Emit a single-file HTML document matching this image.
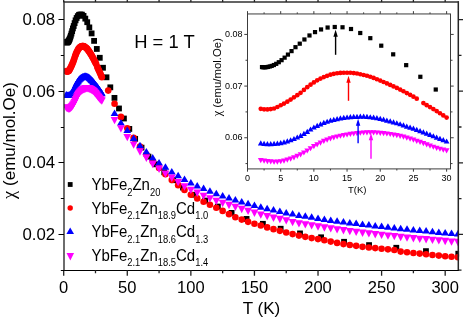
<!DOCTYPE html>
<html><head><meta charset="utf-8"><title>chart</title>
<style>html,body{margin:0;padding:0;background:#fff}svg{display:block;will-change:transform;opacity:0.999}text{font-family:"Liberation Sans",sans-serif;fill:#000}</style>
</head><body>
<svg width="463" height="324" viewBox="0 0 463 324">
<defs><clipPath id="cm"><rect x="64.0" y="2.0" width="395.1" height="268.25"/></clipPath>
<clipPath id="ci"><rect x="247.5" y="13.95" width="203.0" height="154.95000000000002"/></clipPath></defs>
<rect width="463" height="324" fill="#fff"/>
<g clip-path="url(#cm)">
<rect x="63.58" y="39.34" width="5.8" height="5.8" fill="#000"/>
<rect x="63.83" y="39.45" width="5.8" height="5.8" fill="#000"/>
<rect x="64.10" y="39.48" width="5.8" height="5.8" fill="#000"/>
<rect x="64.39" y="39.42" width="5.8" height="5.8" fill="#000"/>
<rect x="64.71" y="39.22" width="5.8" height="5.8" fill="#000"/>
<rect x="65.06" y="38.92" width="5.8" height="5.8" fill="#000"/>
<rect x="65.44" y="38.53" width="5.8" height="5.8" fill="#000"/>
<rect x="65.85" y="37.91" width="5.8" height="5.8" fill="#000"/>
<rect x="66.30" y="37.09" width="5.8" height="5.8" fill="#000"/>
<rect x="66.80" y="35.95" width="5.8" height="5.8" fill="#000"/>
<rect x="67.33" y="34.54" width="5.8" height="5.8" fill="#000"/>
<rect x="67.91" y="32.79" width="5.8" height="5.8" fill="#000"/>
<rect x="68.55" y="30.68" width="5.8" height="5.8" fill="#000"/>
<rect x="69.24" y="28.26" width="5.8" height="5.8" fill="#000"/>
<rect x="69.99" y="25.54" width="5.8" height="5.8" fill="#000"/>
<rect x="70.81" y="23.12" width="5.8" height="5.8" fill="#000"/>
<rect x="71.70" y="20.21" width="5.8" height="5.8" fill="#000"/>
<rect x="72.68" y="17.43" width="5.8" height="5.8" fill="#000"/>
<rect x="73.74" y="15.10" width="5.8" height="5.8" fill="#000"/>
<rect x="74.89" y="13.26" width="5.8" height="5.8" fill="#000"/>
<rect x="76.15" y="11.93" width="5.8" height="5.8" fill="#000"/>
<rect x="77.52" y="11.56" width="5.8" height="5.8" fill="#000"/>
<rect x="79.01" y="11.75" width="5.8" height="5.8" fill="#000"/>
<rect x="80.63" y="12.96" width="5.8" height="5.8" fill="#000"/>
<rect x="82.40" y="15.73" width="5.8" height="5.8" fill="#000"/>
<rect x="84.33" y="19.30" width="5.8" height="5.8" fill="#000"/>
<rect x="86.43" y="24.50" width="5.8" height="5.8" fill="#000"/>
<rect x="88.71" y="30.50" width="5.8" height="5.8" fill="#000"/>
<rect x="91.20" y="37.99" width="5.8" height="5.8" fill="#000"/>
<rect x="93.91" y="46.05" width="5.8" height="5.8" fill="#000"/>
<rect x="96.87" y="54.88" width="5.8" height="5.8" fill="#000"/>
<rect x="100.08" y="64.85" width="5.8" height="5.8" fill="#000"/>
<rect x="103.59" y="74.41" width="5.8" height="5.8" fill="#000"/>
<rect x="107.41" y="84.43" width="5.8" height="5.8" fill="#000"/>
<rect x="111.56" y="94.98" width="5.8" height="5.8" fill="#000"/>
<rect x="116.09" y="105.57" width="5.8" height="5.8" fill="#000"/>
<rect x="121.02" y="115.61" width="5.8" height="5.8" fill="#000"/>
<rect x="126.40" y="126.03" width="5.8" height="5.8" fill="#000"/>
<rect x="132.25" y="135.96" width="5.8" height="5.8" fill="#000"/>
<rect x="138.62" y="144.74" width="5.8" height="5.8" fill="#000"/>
<rect x="145.56" y="153.71" width="5.8" height="5.8" fill="#000"/>
<rect x="153.12" y="161.43" width="5.8" height="5.8" fill="#000"/>
<rect x="161.36" y="169.40" width="5.8" height="5.8" fill="#000"/>
<rect x="170.33" y="177.31" width="5.8" height="5.8" fill="#000"/>
<rect x="180.10" y="184.68" width="5.8" height="5.8" fill="#000"/>
<rect x="190.74" y="191.84" width="5.8" height="5.8" fill="#000"/>
<rect x="202.33" y="197.68" width="5.8" height="5.8" fill="#000"/>
<rect x="214.95" y="203.64" width="5.8" height="5.8" fill="#000"/>
<rect x="228.70" y="210.00" width="5.8" height="5.8" fill="#000"/>
<rect x="243.68" y="216.03" width="5.8" height="5.8" fill="#000"/>
<rect x="259.99" y="220.93" width="5.8" height="5.8" fill="#000"/>
<rect x="277.76" y="225.84" width="5.8" height="5.8" fill="#000"/>
<rect x="297.11" y="230.52" width="5.8" height="5.8" fill="#000"/>
<rect x="318.19" y="234.40" width="5.8" height="5.8" fill="#000"/>
<rect x="341.15" y="238.90" width="5.8" height="5.8" fill="#000"/>
<rect x="366.16" y="242.22" width="5.8" height="5.8" fill="#000"/>
<rect x="393.40" y="244.87" width="5.8" height="5.8" fill="#000"/>
<rect x="423.06" y="248.22" width="5.8" height="5.8" fill="#000"/>
<rect x="455.38" y="250.83" width="5.8" height="5.8" fill="#000"/>
<circle cx="66.24" cy="71.14" r="3.3" fill="#ff0000"/>
<circle cx="66.88" cy="71.50" r="3.3" fill="#ff0000"/>
<circle cx="67.51" cy="71.55" r="3.3" fill="#ff0000"/>
<circle cx="68.15" cy="71.34" r="3.3" fill="#ff0000"/>
<circle cx="68.79" cy="70.94" r="3.3" fill="#ff0000"/>
<circle cx="69.42" cy="69.88" r="3.3" fill="#ff0000"/>
<circle cx="70.06" cy="68.69" r="3.3" fill="#ff0000"/>
<circle cx="70.69" cy="67.48" r="3.3" fill="#ff0000"/>
<circle cx="71.33" cy="66.18" r="3.3" fill="#ff0000"/>
<circle cx="71.97" cy="64.73" r="3.3" fill="#ff0000"/>
<circle cx="72.60" cy="63.21" r="3.3" fill="#ff0000"/>
<circle cx="73.24" cy="61.72" r="3.3" fill="#ff0000"/>
<circle cx="73.87" cy="60.08" r="3.3" fill="#ff0000"/>
<circle cx="74.51" cy="58.05" r="3.3" fill="#ff0000"/>
<circle cx="75.14" cy="56.12" r="3.3" fill="#ff0000"/>
<circle cx="75.78" cy="54.40" r="3.3" fill="#ff0000"/>
<circle cx="76.42" cy="52.84" r="3.3" fill="#ff0000"/>
<circle cx="77.05" cy="51.43" r="3.3" fill="#ff0000"/>
<circle cx="77.69" cy="50.21" r="3.3" fill="#ff0000"/>
<circle cx="78.32" cy="49.16" r="3.3" fill="#ff0000"/>
<circle cx="78.96" cy="48.27" r="3.3" fill="#ff0000"/>
<circle cx="79.59" cy="47.52" r="3.3" fill="#ff0000"/>
<circle cx="80.23" cy="46.93" r="3.3" fill="#ff0000"/>
<circle cx="80.87" cy="46.50" r="3.3" fill="#ff0000"/>
<circle cx="81.50" cy="46.27" r="3.3" fill="#ff0000"/>
<circle cx="82.14" cy="46.16" r="3.3" fill="#ff0000"/>
<circle cx="82.77" cy="46.16" r="3.3" fill="#ff0000"/>
<circle cx="83.41" cy="46.16" r="3.3" fill="#ff0000"/>
<circle cx="84.05" cy="46.36" r="3.3" fill="#ff0000"/>
<circle cx="84.68" cy="46.69" r="3.3" fill="#ff0000"/>
<circle cx="85.32" cy="47.19" r="3.3" fill="#ff0000"/>
<circle cx="85.95" cy="47.72" r="3.3" fill="#ff0000"/>
<circle cx="86.59" cy="48.25" r="3.3" fill="#ff0000"/>
<circle cx="87.22" cy="48.92" r="3.3" fill="#ff0000"/>
<circle cx="87.86" cy="49.77" r="3.3" fill="#ff0000"/>
<circle cx="88.50" cy="50.66" r="3.3" fill="#ff0000"/>
<circle cx="89.13" cy="51.58" r="3.3" fill="#ff0000"/>
<circle cx="89.77" cy="52.57" r="3.3" fill="#ff0000"/>
<circle cx="90.40" cy="53.59" r="3.3" fill="#ff0000"/>
<circle cx="91.04" cy="54.59" r="3.3" fill="#ff0000"/>
<circle cx="91.68" cy="55.61" r="3.3" fill="#ff0000"/>
<circle cx="92.31" cy="56.69" r="3.3" fill="#ff0000"/>
<circle cx="92.95" cy="57.82" r="3.3" fill="#ff0000"/>
<circle cx="93.58" cy="58.99" r="3.3" fill="#ff0000"/>
<circle cx="94.22" cy="60.22" r="3.3" fill="#ff0000"/>
<circle cx="94.85" cy="61.46" r="3.3" fill="#ff0000"/>
<circle cx="95.49" cy="62.74" r="3.3" fill="#ff0000"/>
<circle cx="96.13" cy="64.10" r="3.3" fill="#ff0000"/>
<circle cx="97.40" cy="67.17" r="3.3" fill="#ff0000"/>
<circle cx="98.03" cy="68.59" r="3.3" fill="#ff0000"/>
<circle cx="98.67" cy="69.96" r="3.3" fill="#ff0000"/>
<circle cx="99.30" cy="71.32" r="3.3" fill="#ff0000"/>
<circle cx="99.94" cy="72.73" r="3.3" fill="#ff0000"/>
<circle cx="100.58" cy="74.21" r="3.3" fill="#ff0000"/>
<circle cx="101.21" cy="75.72" r="3.3" fill="#ff0000"/>
<circle cx="101.85" cy="77.21" r="3.3" fill="#ff0000"/>
<circle cx="108.21" cy="90.60" r="3.3" fill="#ff0000"/>
<circle cx="114.56" cy="103.75" r="3.3" fill="#ff0000"/>
<circle cx="120.92" cy="116.90" r="3.3" fill="#ff0000"/>
<circle cx="127.28" cy="128.25" r="3.3" fill="#ff0000"/>
<circle cx="133.64" cy="137.90" r="3.3" fill="#ff0000"/>
<circle cx="140.00" cy="146.62" r="3.3" fill="#ff0000"/>
<circle cx="146.35" cy="154.50" r="3.3" fill="#ff0000"/>
<circle cx="152.71" cy="161.52" r="3.3" fill="#ff0000"/>
<circle cx="159.07" cy="168.00" r="3.3" fill="#ff0000"/>
<circle cx="165.43" cy="174.23" r="3.3" fill="#ff0000"/>
<circle cx="171.79" cy="180.00" r="3.3" fill="#ff0000"/>
<circle cx="178.14" cy="185.16" r="3.3" fill="#ff0000"/>
<circle cx="184.50" cy="190.00" r="3.3" fill="#ff0000"/>
<circle cx="190.86" cy="194.70" r="3.3" fill="#ff0000"/>
<circle cx="197.22" cy="198.40" r="3.3" fill="#ff0000"/>
<circle cx="203.58" cy="201.80" r="3.3" fill="#ff0000"/>
<circle cx="209.93" cy="204.70" r="3.3" fill="#ff0000"/>
<circle cx="216.29" cy="207.77" r="3.3" fill="#ff0000"/>
<circle cx="222.65" cy="210.90" r="3.3" fill="#ff0000"/>
<circle cx="229.01" cy="214.17" r="3.3" fill="#ff0000"/>
<circle cx="235.37" cy="217.20" r="3.3" fill="#ff0000"/>
<circle cx="241.72" cy="219.60" r="3.3" fill="#ff0000"/>
<circle cx="248.08" cy="221.85" r="3.3" fill="#ff0000"/>
<circle cx="254.44" cy="223.70" r="3.3" fill="#ff0000"/>
<circle cx="260.80" cy="225.57" r="3.3" fill="#ff0000"/>
<circle cx="267.16" cy="227.40" r="3.3" fill="#ff0000"/>
<circle cx="273.51" cy="229.15" r="3.3" fill="#ff0000"/>
<circle cx="279.87" cy="230.85" r="3.3" fill="#ff0000"/>
<circle cx="286.23" cy="232.50" r="3.3" fill="#ff0000"/>
<circle cx="292.59" cy="234.10" r="3.3" fill="#ff0000"/>
<circle cx="298.95" cy="235.60" r="3.3" fill="#ff0000"/>
<circle cx="305.30" cy="236.85" r="3.3" fill="#ff0000"/>
<circle cx="311.66" cy="238.10" r="3.3" fill="#ff0000"/>
<circle cx="318.02" cy="239.10" r="3.3" fill="#ff0000"/>
<circle cx="324.38" cy="240.31" r="3.3" fill="#ff0000"/>
<circle cx="330.74" cy="241.60" r="3.3" fill="#ff0000"/>
<circle cx="337.09" cy="242.91" r="3.3" fill="#ff0000"/>
<circle cx="343.45" cy="244.10" r="3.3" fill="#ff0000"/>
<circle cx="349.81" cy="245.00" r="3.3" fill="#ff0000"/>
<circle cx="356.17" cy="245.85" r="3.3" fill="#ff0000"/>
<circle cx="362.53" cy="246.85" r="3.3" fill="#ff0000"/>
<circle cx="368.88" cy="247.50" r="3.3" fill="#ff0000"/>
<circle cx="375.24" cy="248.10" r="3.3" fill="#ff0000"/>
<circle cx="381.60" cy="248.70" r="3.3" fill="#ff0000"/>
<circle cx="387.96" cy="249.35" r="3.3" fill="#ff0000"/>
<circle cx="394.32" cy="250.00" r="3.3" fill="#ff0000"/>
<circle cx="400.67" cy="251.60" r="3.3" fill="#ff0000"/>
<circle cx="407.03" cy="252.30" r="3.3" fill="#ff0000"/>
<circle cx="413.39" cy="253.00" r="3.3" fill="#ff0000"/>
<circle cx="419.75" cy="253.60" r="3.3" fill="#ff0000"/>
<circle cx="426.11" cy="254.30" r="3.3" fill="#ff0000"/>
<circle cx="432.46" cy="255.00" r="3.3" fill="#ff0000"/>
<circle cx="438.82" cy="255.60" r="3.3" fill="#ff0000"/>
<circle cx="445.18" cy="256.20" r="3.3" fill="#ff0000"/>
<circle cx="451.54" cy="256.80" r="3.3" fill="#ff0000"/>
<circle cx="457.90" cy="257.30" r="3.3" fill="#ff0000"/>
<path d="M62.34 97.56L70.14 97.56L66.24 91.06Z" fill="#0000ff"/>
<path d="M62.98 97.92L70.78 97.92L66.88 91.42Z" fill="#0000ff"/>
<path d="M63.61 98.05L71.41 98.05L67.51 91.55Z" fill="#0000ff"/>
<path d="M64.25 98.02L72.05 98.02L68.15 91.52Z" fill="#0000ff"/>
<path d="M64.89 97.94L72.69 97.94L68.79 91.44Z" fill="#0000ff"/>
<path d="M65.52 97.74L73.32 97.74L69.42 91.24Z" fill="#0000ff"/>
<path d="M66.16 97.33L73.96 97.33L70.06 90.83Z" fill="#0000ff"/>
<path d="M66.79 96.80L74.59 96.80L70.69 90.30Z" fill="#0000ff"/>
<path d="M67.43 96.14L75.23 96.14L71.33 89.64Z" fill="#0000ff"/>
<path d="M68.07 95.40L75.87 95.40L71.97 88.90Z" fill="#0000ff"/>
<path d="M68.70 94.53L76.50 94.53L72.60 88.03Z" fill="#0000ff"/>
<path d="M69.34 93.48L77.14 93.48L73.24 86.98Z" fill="#0000ff"/>
<path d="M69.97 92.30L77.77 92.30L73.87 85.80Z" fill="#0000ff"/>
<path d="M70.61 90.99L78.41 90.99L74.51 84.49Z" fill="#0000ff"/>
<path d="M71.24 89.56L79.04 89.56L75.14 83.06Z" fill="#0000ff"/>
<path d="M71.88 87.93L79.68 87.93L75.78 81.43Z" fill="#0000ff"/>
<path d="M72.52 86.56L80.32 86.56L76.42 80.06Z" fill="#0000ff"/>
<path d="M73.15 85.45L80.95 85.45L77.05 78.95Z" fill="#0000ff"/>
<path d="M73.79 84.39L81.59 84.39L77.69 77.89Z" fill="#0000ff"/>
<path d="M74.42 83.40L82.22 83.40L78.32 76.90Z" fill="#0000ff"/>
<path d="M75.06 82.56L82.86 82.56L78.96 76.06Z" fill="#0000ff"/>
<path d="M75.69 81.85L83.50 81.85L79.59 75.35Z" fill="#0000ff"/>
<path d="M76.33 81.24L84.13 81.24L80.23 74.74Z" fill="#0000ff"/>
<path d="M76.97 80.71L84.77 80.71L80.87 74.21Z" fill="#0000ff"/>
<path d="M77.60 80.27L85.40 80.27L81.50 73.77Z" fill="#0000ff"/>
<path d="M78.24 79.90L86.04 79.90L82.14 73.40Z" fill="#0000ff"/>
<path d="M78.87 79.61L86.67 79.61L82.77 73.11Z" fill="#0000ff"/>
<path d="M79.51 79.39L87.31 79.39L83.41 72.89Z" fill="#0000ff"/>
<path d="M80.15 79.21L87.95 79.21L84.05 72.71Z" fill="#0000ff"/>
<path d="M80.78 79.12L88.58 79.12L84.68 72.62Z" fill="#0000ff"/>
<path d="M81.42 79.07L89.22 79.07L85.32 72.57Z" fill="#0000ff"/>
<path d="M82.05 79.08L89.85 79.08L85.95 72.58Z" fill="#0000ff"/>
<path d="M82.69 79.23L90.49 79.23L86.59 72.73Z" fill="#0000ff"/>
<path d="M83.32 79.45L91.12 79.45L87.22 72.95Z" fill="#0000ff"/>
<path d="M83.96 79.75L91.76 79.75L87.86 73.25Z" fill="#0000ff"/>
<path d="M84.60 80.12L92.40 80.12L88.50 73.62Z" fill="#0000ff"/>
<path d="M85.23 80.57L93.03 80.57L89.13 74.07Z" fill="#0000ff"/>
<path d="M85.87 81.12L93.67 81.12L89.77 74.62Z" fill="#0000ff"/>
<path d="M86.50 81.75L94.30 81.75L90.40 75.25Z" fill="#0000ff"/>
<path d="M87.14 82.36L94.94 82.36L91.04 75.86Z" fill="#0000ff"/>
<path d="M87.78 82.97L95.58 82.97L91.68 76.47Z" fill="#0000ff"/>
<path d="M88.41 83.61L96.21 83.61L92.31 77.11Z" fill="#0000ff"/>
<path d="M89.05 84.29L96.85 84.29L92.95 77.79Z" fill="#0000ff"/>
<path d="M89.68 85.10L97.48 85.10L93.58 78.60Z" fill="#0000ff"/>
<path d="M90.32 85.91L98.12 85.91L94.22 79.41Z" fill="#0000ff"/>
<path d="M90.95 86.64L98.75 86.64L94.85 80.14Z" fill="#0000ff"/>
<path d="M91.59 87.39L99.39 87.39L95.49 80.89Z" fill="#0000ff"/>
<path d="M92.23 88.19L100.03 88.19L96.13 81.69Z" fill="#0000ff"/>
<path d="M92.86 89.02L100.66 89.02L96.76 82.52Z" fill="#0000ff"/>
<path d="M93.50 89.86L101.30 89.86L97.40 83.36Z" fill="#0000ff"/>
<path d="M94.13 90.75L101.93 90.75L98.03 84.25Z" fill="#0000ff"/>
<path d="M94.77 91.67L102.57 91.67L98.67 85.17Z" fill="#0000ff"/>
<path d="M95.40 92.62L103.20 92.62L99.30 86.12Z" fill="#0000ff"/>
<path d="M96.04 93.58L103.84 93.58L99.94 87.08Z" fill="#0000ff"/>
<path d="M96.68 94.48L104.48 94.48L100.58 87.98Z" fill="#0000ff"/>
<path d="M97.31 95.34L105.11 95.34L101.21 88.84Z" fill="#0000ff"/>
<path d="M97.95 96.23L105.75 96.23L101.85 89.73Z" fill="#0000ff"/>
<path d="M110.66 116.00L118.46 116.00L114.56 109.50Z" fill="#0000ff"/>
<path d="M117.02 125.40L124.82 125.40L120.92 118.90Z" fill="#0000ff"/>
<path d="M123.38 132.90L131.18 132.90L127.28 126.40Z" fill="#0000ff"/>
<path d="M129.74 141.00L137.54 141.00L133.64 134.50Z" fill="#0000ff"/>
<path d="M136.10 148.25L143.90 148.25L140.00 141.75Z" fill="#0000ff"/>
<path d="M142.45 154.50L150.25 154.50L146.35 148.00Z" fill="#0000ff"/>
<path d="M148.81 160.40L156.61 160.40L152.71 153.90Z" fill="#0000ff"/>
<path d="M155.17 165.40L162.97 165.40L159.07 158.90Z" fill="#0000ff"/>
<path d="M161.53 169.75L169.33 169.75L165.43 163.25Z" fill="#0000ff"/>
<path d="M167.89 174.50L175.69 174.50L171.79 168.00Z" fill="#0000ff"/>
<path d="M174.24 178.25L182.04 178.25L178.14 171.75Z" fill="#0000ff"/>
<path d="M180.60 182.10L188.40 182.10L184.50 175.60Z" fill="#0000ff"/>
<path d="M186.96 185.40L194.76 185.40L190.86 178.90Z" fill="#0000ff"/>
<path d="M193.32 188.50L201.12 188.50L197.22 182.00Z" fill="#0000ff"/>
<path d="M199.68 191.00L207.48 191.00L203.58 184.50Z" fill="#0000ff"/>
<path d="M206.03 193.75L213.83 193.75L209.93 187.25Z" fill="#0000ff"/>
<path d="M212.39 196.25L220.19 196.25L216.29 189.75Z" fill="#0000ff"/>
<path d="M218.75 198.50L226.55 198.50L222.65 192.00Z" fill="#0000ff"/>
<path d="M225.11 200.60L232.91 200.60L229.01 194.10Z" fill="#0000ff"/>
<path d="M231.47 202.55L239.27 202.55L235.37 196.05Z" fill="#0000ff"/>
<path d="M237.82 204.50L245.62 204.50L241.72 198.00Z" fill="#0000ff"/>
<path d="M244.18 206.25L251.98 206.25L248.08 199.75Z" fill="#0000ff"/>
<path d="M250.54 208.10L258.34 208.10L254.44 201.60Z" fill="#0000ff"/>
<path d="M256.90 209.75L264.70 209.75L260.80 203.25Z" fill="#0000ff"/>
<path d="M263.26 211.25L271.06 211.25L267.16 204.75Z" fill="#0000ff"/>
<path d="M269.61 212.60L277.41 212.60L273.51 206.10Z" fill="#0000ff"/>
<path d="M275.97 213.90L283.77 213.90L279.87 207.40Z" fill="#0000ff"/>
<path d="M282.33 215.40L290.13 215.40L286.23 208.90Z" fill="#0000ff"/>
<path d="M288.69 216.60L296.49 216.60L292.59 210.10Z" fill="#0000ff"/>
<path d="M295.05 217.90L302.85 217.90L298.95 211.40Z" fill="#0000ff"/>
<path d="M301.40 218.75L309.20 218.75L305.30 212.25Z" fill="#0000ff"/>
<path d="M307.76 219.75L315.56 219.75L311.66 213.25Z" fill="#0000ff"/>
<path d="M314.12 221.00L321.92 221.00L318.02 214.50Z" fill="#0000ff"/>
<path d="M320.48 222.00L328.28 222.00L324.38 215.50Z" fill="#0000ff"/>
<path d="M326.84 222.90L334.64 222.90L330.74 216.40Z" fill="#0000ff"/>
<path d="M333.19 223.75L340.99 223.75L337.09 217.25Z" fill="#0000ff"/>
<path d="M339.55 224.50L347.35 224.50L343.45 218.00Z" fill="#0000ff"/>
<path d="M345.91 225.40L353.71 225.40L349.81 218.90Z" fill="#0000ff"/>
<path d="M352.27 226.00L360.07 226.00L356.17 219.50Z" fill="#0000ff"/>
<path d="M358.63 227.00L366.43 227.00L362.53 220.50Z" fill="#0000ff"/>
<path d="M364.98 227.60L372.78 227.60L368.88 221.10Z" fill="#0000ff"/>
<path d="M371.34 228.50L379.14 228.50L375.24 222.00Z" fill="#0000ff"/>
<path d="M377.70 229.10L385.50 229.10L381.60 222.60Z" fill="#0000ff"/>
<path d="M384.06 229.75L391.86 229.75L387.96 223.25Z" fill="#0000ff"/>
<path d="M390.42 230.40L398.22 230.40L394.32 223.90Z" fill="#0000ff"/>
<path d="M396.77 231.25L404.57 231.25L400.67 224.75Z" fill="#0000ff"/>
<path d="M403.13 231.75L410.93 231.75L407.03 225.25Z" fill="#0000ff"/>
<path d="M409.49 232.40L417.29 232.40L413.39 225.90Z" fill="#0000ff"/>
<path d="M415.85 233.00L423.65 233.00L419.75 226.50Z" fill="#0000ff"/>
<path d="M422.21 233.60L430.01 233.60L426.11 227.10Z" fill="#0000ff"/>
<path d="M428.56 234.25L436.36 234.25L432.46 227.75Z" fill="#0000ff"/>
<path d="M434.92 234.90L442.72 234.90L438.82 228.40Z" fill="#0000ff"/>
<path d="M441.28 235.50L449.08 235.50L445.18 229.00Z" fill="#0000ff"/>
<path d="M447.64 236.10L455.44 236.10L451.54 229.60Z" fill="#0000ff"/>
<path d="M454.00 236.50L461.80 236.50L457.90 230.00Z" fill="#0000ff"/>
<path d="M62.34 104.20L70.14 104.20L66.24 111.60Z" fill="#ff00ff"/>
<path d="M62.98 104.59L70.78 104.59L66.88 111.99Z" fill="#ff00ff"/>
<path d="M63.61 104.88L71.41 104.88L67.51 112.28Z" fill="#ff00ff"/>
<path d="M64.25 105.12L72.05 105.12L68.15 112.52Z" fill="#ff00ff"/>
<path d="M64.89 105.31L72.69 105.31L68.79 112.71Z" fill="#ff00ff"/>
<path d="M65.52 105.24L73.32 105.24L69.42 112.64Z" fill="#ff00ff"/>
<path d="M66.16 104.97L73.96 104.97L70.06 112.37Z" fill="#ff00ff"/>
<path d="M66.79 104.51L74.59 104.51L70.69 111.91Z" fill="#ff00ff"/>
<path d="M67.43 103.87L75.23 103.87L71.33 111.27Z" fill="#ff00ff"/>
<path d="M68.07 103.12L75.87 103.12L71.97 110.52Z" fill="#ff00ff"/>
<path d="M68.70 102.25L76.50 102.25L72.60 109.65Z" fill="#ff00ff"/>
<path d="M69.34 101.27L77.14 101.27L73.24 108.67Z" fill="#ff00ff"/>
<path d="M69.97 100.16L77.77 100.16L73.87 107.56Z" fill="#ff00ff"/>
<path d="M70.61 98.90L78.41 98.90L74.51 106.30Z" fill="#ff00ff"/>
<path d="M71.24 97.51L79.04 97.51L75.14 104.91Z" fill="#ff00ff"/>
<path d="M71.88 95.96L79.68 95.96L75.78 103.36Z" fill="#ff00ff"/>
<path d="M72.52 94.55L80.32 94.55L76.42 101.95Z" fill="#ff00ff"/>
<path d="M73.15 93.31L80.95 93.31L77.05 100.71Z" fill="#ff00ff"/>
<path d="M73.79 92.09L81.59 92.09L77.69 99.49Z" fill="#ff00ff"/>
<path d="M74.42 90.89L82.22 90.89L78.32 98.29Z" fill="#ff00ff"/>
<path d="M75.06 89.95L82.86 89.95L78.96 97.35Z" fill="#ff00ff"/>
<path d="M75.69 89.18L83.50 89.18L79.59 96.58Z" fill="#ff00ff"/>
<path d="M76.33 88.46L84.13 88.46L80.23 95.86Z" fill="#ff00ff"/>
<path d="M76.97 87.82L84.77 87.82L80.87 95.22Z" fill="#ff00ff"/>
<path d="M77.60 87.31L85.40 87.31L81.50 94.71Z" fill="#ff00ff"/>
<path d="M78.24 86.86L86.04 86.86L82.14 94.26Z" fill="#ff00ff"/>
<path d="M78.87 86.43L86.67 86.43L82.77 93.83Z" fill="#ff00ff"/>
<path d="M79.51 86.05L87.31 86.05L83.41 93.45Z" fill="#ff00ff"/>
<path d="M80.15 85.75L87.95 85.75L84.05 93.15Z" fill="#ff00ff"/>
<path d="M80.78 85.48L88.58 85.48L84.68 92.88Z" fill="#ff00ff"/>
<path d="M81.42 85.24L89.22 85.24L85.32 92.64Z" fill="#ff00ff"/>
<path d="M82.05 85.07L89.85 85.07L85.95 92.47Z" fill="#ff00ff"/>
<path d="M82.69 84.94L90.49 84.94L86.59 92.34Z" fill="#ff00ff"/>
<path d="M83.32 84.92L91.12 84.92L87.22 92.32Z" fill="#ff00ff"/>
<path d="M83.96 84.96L91.76 84.96L87.86 92.36Z" fill="#ff00ff"/>
<path d="M84.60 85.05L92.40 85.05L88.50 92.45Z" fill="#ff00ff"/>
<path d="M85.23 85.26L93.03 85.26L89.13 92.66Z" fill="#ff00ff"/>
<path d="M85.87 85.49L93.67 85.49L89.77 92.89Z" fill="#ff00ff"/>
<path d="M86.50 85.76L94.30 85.76L90.40 93.16Z" fill="#ff00ff"/>
<path d="M87.14 86.09L94.94 86.09L91.04 93.49Z" fill="#ff00ff"/>
<path d="M87.78 86.48L95.58 86.48L91.68 93.88Z" fill="#ff00ff"/>
<path d="M88.41 86.88L96.21 86.88L92.31 94.28Z" fill="#ff00ff"/>
<path d="M89.05 87.33L96.85 87.33L92.95 94.73Z" fill="#ff00ff"/>
<path d="M89.68 87.90L97.48 87.90L93.58 95.30Z" fill="#ff00ff"/>
<path d="M90.32 88.56L98.12 88.56L94.22 95.96Z" fill="#ff00ff"/>
<path d="M90.95 89.29L98.75 89.29L94.85 96.69Z" fill="#ff00ff"/>
<path d="M91.59 90.04L99.39 90.04L95.49 97.44Z" fill="#ff00ff"/>
<path d="M92.23 90.81L100.03 90.81L96.13 98.21Z" fill="#ff00ff"/>
<path d="M92.86 91.61L100.66 91.61L96.76 99.01Z" fill="#ff00ff"/>
<path d="M93.50 92.44L101.30 92.44L97.40 99.84Z" fill="#ff00ff"/>
<path d="M94.13 93.27L101.93 93.27L98.03 100.67Z" fill="#ff00ff"/>
<path d="M94.77 94.11L102.57 94.11L98.67 101.51Z" fill="#ff00ff"/>
<path d="M95.40 94.91L103.20 94.91L99.30 102.31Z" fill="#ff00ff"/>
<path d="M96.04 95.68L103.84 95.68L99.94 103.08Z" fill="#ff00ff"/>
<path d="M96.68 96.32L104.48 96.32L100.58 103.72Z" fill="#ff00ff"/>
<path d="M97.31 96.86L105.11 96.86L101.21 104.26Z" fill="#ff00ff"/>
<path d="M97.95 97.46L105.75 97.46L101.85 104.86Z" fill="#ff00ff"/>
<path d="M110.66 116.90L118.46 116.90L114.56 124.30Z" fill="#ff00ff"/>
<path d="M117.02 125.15L124.82 125.15L120.92 132.55Z" fill="#ff00ff"/>
<path d="M123.38 133.90L131.18 133.90L127.28 141.30Z" fill="#ff00ff"/>
<path d="M129.74 141.40L137.54 141.40L133.64 148.80Z" fill="#ff00ff"/>
<path d="M136.10 148.30L143.90 148.30L140.00 155.70Z" fill="#ff00ff"/>
<path d="M142.45 154.50L150.25 154.50L146.35 161.90Z" fill="#ff00ff"/>
<path d="M148.81 160.80L156.61 160.80L152.71 168.20Z" fill="#ff00ff"/>
<path d="M155.17 165.50L162.97 165.50L159.07 172.90Z" fill="#ff00ff"/>
<path d="M161.53 170.40L169.33 170.40L165.43 177.80Z" fill="#ff00ff"/>
<path d="M167.89 174.50L175.69 174.50L171.79 181.90Z" fill="#ff00ff"/>
<path d="M174.24 178.90L182.04 178.90L178.14 186.30Z" fill="#ff00ff"/>
<path d="M180.60 183.30L188.40 183.30L184.50 190.70Z" fill="#ff00ff"/>
<path d="M186.96 186.65L194.76 186.65L190.86 194.05Z" fill="#ff00ff"/>
<path d="M193.32 189.50L201.12 189.50L197.22 196.90Z" fill="#ff00ff"/>
<path d="M199.68 192.65L207.48 192.65L203.58 200.05Z" fill="#ff00ff"/>
<path d="M206.03 195.15L213.83 195.15L209.93 202.55Z" fill="#ff00ff"/>
<path d="M212.39 197.65L220.19 197.65L216.29 205.05Z" fill="#ff00ff"/>
<path d="M218.75 199.80L226.55 199.80L222.65 207.20Z" fill="#ff00ff"/>
<path d="M225.11 201.80L232.91 201.80L229.01 209.20Z" fill="#ff00ff"/>
<path d="M231.47 203.65L239.27 203.65L235.37 211.05Z" fill="#ff00ff"/>
<path d="M237.82 205.80L245.62 205.80L241.72 213.20Z" fill="#ff00ff"/>
<path d="M244.18 207.65L251.98 207.65L248.08 215.05Z" fill="#ff00ff"/>
<path d="M250.54 209.50L258.34 209.50L254.44 216.90Z" fill="#ff00ff"/>
<path d="M256.90 211.40L264.70 211.40L260.80 218.80Z" fill="#ff00ff"/>
<path d="M263.26 212.90L271.06 212.90L267.16 220.30Z" fill="#ff00ff"/>
<path d="M269.61 214.50L277.41 214.50L273.51 221.90Z" fill="#ff00ff"/>
<path d="M275.97 215.80L283.77 215.80L279.87 223.20Z" fill="#ff00ff"/>
<path d="M282.33 217.20L290.13 217.20L286.23 224.60Z" fill="#ff00ff"/>
<path d="M288.69 218.90L296.49 218.90L292.59 226.30Z" fill="#ff00ff"/>
<path d="M295.05 220.15L302.85 220.15L298.95 227.55Z" fill="#ff00ff"/>
<path d="M301.40 221.15L309.20 221.15L305.30 228.55Z" fill="#ff00ff"/>
<path d="M307.76 222.15L315.56 222.15L311.66 229.55Z" fill="#ff00ff"/>
<path d="M314.12 223.30L321.92 223.30L318.02 230.70Z" fill="#ff00ff"/>
<path d="M320.48 224.30L328.28 224.30L324.38 231.70Z" fill="#ff00ff"/>
<path d="M326.84 225.15L334.64 225.15L330.74 232.55Z" fill="#ff00ff"/>
<path d="M333.19 226.15L340.99 226.15L337.09 233.55Z" fill="#ff00ff"/>
<path d="M339.55 227.00L347.35 227.00L343.45 234.40Z" fill="#ff00ff"/>
<path d="M345.91 227.90L353.71 227.90L349.81 235.30Z" fill="#ff00ff"/>
<path d="M352.27 228.65L360.07 228.65L356.17 236.05Z" fill="#ff00ff"/>
<path d="M358.63 229.50L366.43 229.50L362.53 236.90Z" fill="#ff00ff"/>
<path d="M364.98 230.15L372.78 230.15L368.88 237.55Z" fill="#ff00ff"/>
<path d="M371.34 231.00L379.14 231.00L375.24 238.40Z" fill="#ff00ff"/>
<path d="M377.70 231.65L385.50 231.65L381.60 239.05Z" fill="#ff00ff"/>
<path d="M384.06 232.40L391.86 232.40L387.96 239.80Z" fill="#ff00ff"/>
<path d="M390.42 232.90L398.22 232.90L394.32 240.30Z" fill="#ff00ff"/>
<path d="M396.77 233.80L404.57 233.80L400.67 241.20Z" fill="#ff00ff"/>
<path d="M403.13 234.40L410.93 234.40L407.03 241.80Z" fill="#ff00ff"/>
<path d="M409.49 235.00L417.29 235.00L413.39 242.40Z" fill="#ff00ff"/>
<path d="M415.85 235.65L423.65 235.65L419.75 243.05Z" fill="#ff00ff"/>
<path d="M422.21 236.00L430.01 236.00L426.11 243.40Z" fill="#ff00ff"/>
<path d="M428.56 236.65L436.36 236.65L432.46 244.05Z" fill="#ff00ff"/>
<path d="M434.92 237.15L442.72 237.15L438.82 244.55Z" fill="#ff00ff"/>
<path d="M441.28 237.80L449.08 237.80L445.18 245.20Z" fill="#ff00ff"/>
<path d="M447.64 238.40L455.44 238.40L451.54 245.80Z" fill="#ff00ff"/>
<path d="M454.00 238.80L461.80 238.80L457.90 246.20Z" fill="#ff00ff"/>
</g>
<path d="M64.0 1.3V270.75" stroke="#262626" stroke-width="1.35" fill="none"/>
<path d="M458.3 1.3V270.75" stroke="#262626" stroke-width="1.5" fill="none"/>
<path d="M63.4 1.9H459.0" stroke="#303030" stroke-width="1.5" fill="none"/>
<path d="M63.4 270.45H459.0" stroke="#000" stroke-width="1.15" fill="none"/>
<path d="M63.70 270.25V275.75M63.70 2.0V-3.5M95.49 270.25V273.25M95.49 2.0V-1.0M127.28 270.25V275.75M127.28 2.0V-3.5M159.07 270.25V273.25M159.07 2.0V-1.0M190.86 270.25V275.75M190.86 2.0V-3.5M222.65 270.25V273.25M222.65 2.0V-1.0M254.44 270.25V275.75M254.44 2.0V-3.5M286.23 270.25V273.25M286.23 2.0V-1.0M318.02 270.25V275.75M318.02 2.0V-3.5M349.81 270.25V273.25M349.81 2.0V-1.0M381.60 270.25V275.75M381.60 2.0V-3.5M413.39 270.25V273.25M413.39 2.0V-1.0M445.18 270.25V275.75M445.18 2.0V-3.5M458.3 270.20H461.5M458.3 234.40H463.8M458.3 198.60H461.5M458.3 162.80H463.8M458.3 127.00H461.5M458.3 91.20H463.8M458.3 55.40H461.5M458.3 19.60H463.8" stroke="#222" stroke-width="1.3" fill="none"/>
<path d="M64.0 270.50H60.8M64.0 234.50H58.5M64.0 198.50H60.8M64.0 162.50H58.5M64.0 127.50H60.8M64.0 91.50H58.5M64.0 55.50H60.8M64.0 19.50H58.5" stroke="#000" stroke-width="1.05" fill="none"/>
<text x="63.70" y="292.6" font-size="16.5" text-anchor="middle">0</text>
<text x="127.28" y="292.6" font-size="16.5" text-anchor="middle">50</text>
<text x="190.86" y="292.6" font-size="16.5" text-anchor="middle">100</text>
<text x="254.44" y="292.6" font-size="16.5" text-anchor="middle">150</text>
<text x="318.02" y="292.6" font-size="16.5" text-anchor="middle">200</text>
<text x="381.60" y="292.6" font-size="16.5" text-anchor="middle">250</text>
<text x="445.18" y="292.6" font-size="16.5" text-anchor="middle">300</text>
<text x="55.1" y="239.70" font-size="16.8" text-anchor="end">0.02</text>
<text x="55.1" y="168.10" font-size="16.8" text-anchor="end">0.04</text>
<text x="55.1" y="96.50" font-size="16.8" text-anchor="end">0.06</text>
<text x="55.1" y="24.90" font-size="16.8" text-anchor="end">0.08</text>
<text x="261.5" y="313.8" font-size="17" text-anchor="middle">T (K)</text>
<text transform="translate(14.8,140.5) rotate(-90)" font-size="17" text-anchor="middle"><tspan font-family="Liberation Serif" font-size="18.5">χ</tspan> (emu/mol.Oe)</text>
<text x="134.2" y="48.3" font-size="18.4">H = 1 T</text>
<rect x="67.80" y="182.10" width="4.8" height="4.8" fill="#000"/>
<circle cx="70.20" cy="208.00" r="2.7" fill="#ff0000"/>
<path d="M66.40 233.90L74.00 233.90L70.20 227.50Z" fill="#0000ff"/>
<path d="M66.50 253.10L74.10 253.10L70.30 260.40Z" fill="#ff00ff"/>
<text transform="translate(91.4,190) scale(0.9375,1)" font-size="16">YbFe<tspan font-size="10" dy="5.5">2</tspan><tspan dy="-5.5">Zn</tspan><tspan font-size="10" dy="5.5">20</tspan></text>
<text transform="translate(91.4,213.5) scale(0.9375,1)" font-size="16">YbFe<tspan font-size="10" dy="5.5">2.1</tspan><tspan dy="-5.5">Zn</tspan><tspan font-size="10" dy="5.5">18.9</tspan><tspan dy="-5.5">Cd</tspan><tspan font-size="10" dy="5.5">1.0</tspan></text>
<text transform="translate(91.4,237) scale(0.9375,1)" font-size="16">YbFe<tspan font-size="10" dy="5.5">2.1</tspan><tspan dy="-5.5">Zn</tspan><tspan font-size="10" dy="5.5">18.6</tspan><tspan dy="-5.5">Cd</tspan><tspan font-size="10" dy="5.5">1.3</tspan></text>
<text transform="translate(91.4,260.5) scale(0.9375,1)" font-size="16">YbFe<tspan font-size="10" dy="5.5">2.1</tspan><tspan dy="-5.5">Zn</tspan><tspan font-size="10" dy="5.5">18.5</tspan><tspan dy="-5.5">Cd</tspan><tspan font-size="10" dy="5.5">1.4</tspan></text>
<rect x="247.5" y="13.95" width="203.0" height="154.95000000000002" fill="#fff" stroke="none"/>
<g clip-path="url(#ci)">
<rect x="259.90" y="64.99" width="4.2" height="4.2" fill="#000"/>
<rect x="261.20" y="65.15" width="4.2" height="4.2" fill="#000"/>
<rect x="262.61" y="65.20" width="4.2" height="4.2" fill="#000"/>
<rect x="264.14" y="65.11" width="4.2" height="4.2" fill="#000"/>
<rect x="265.81" y="64.82" width="4.2" height="4.2" fill="#000"/>
<rect x="267.64" y="64.39" width="4.2" height="4.2" fill="#000"/>
<rect x="269.62" y="63.83" width="4.2" height="4.2" fill="#000"/>
<rect x="271.78" y="62.93" width="4.2" height="4.2" fill="#000"/>
<rect x="274.13" y="61.74" width="4.2" height="4.2" fill="#000"/>
<rect x="276.70" y="60.11" width="4.2" height="4.2" fill="#000"/>
<rect x="279.49" y="58.07" width="4.2" height="4.2" fill="#000"/>
<rect x="282.53" y="55.55" width="4.2" height="4.2" fill="#000"/>
<rect x="285.84" y="52.49" width="4.2" height="4.2" fill="#000"/>
<rect x="289.45" y="49.00" width="4.2" height="4.2" fill="#000"/>
<rect x="293.38" y="45.08" width="4.2" height="4.2" fill="#000"/>
<rect x="297.65" y="41.58" width="4.2" height="4.2" fill="#000"/>
<rect x="302.32" y="37.38" width="4.2" height="4.2" fill="#000"/>
<rect x="307.39" y="33.38" width="4.2" height="4.2" fill="#000"/>
<rect x="312.92" y="30.01" width="4.2" height="4.2" fill="#000"/>
<rect x="318.95" y="27.35" width="4.2" height="4.2" fill="#000"/>
<rect x="325.51" y="25.43" width="4.2" height="4.2" fill="#000"/>
<rect x="332.65" y="24.90" width="4.2" height="4.2" fill="#000"/>
<rect x="340.43" y="25.17" width="4.2" height="4.2" fill="#000"/>
<rect x="348.91" y="26.91" width="4.2" height="4.2" fill="#000"/>
<rect x="358.14" y="30.91" width="4.2" height="4.2" fill="#000"/>
<rect x="368.20" y="36.08" width="4.2" height="4.2" fill="#000"/>
<rect x="379.15" y="43.58" width="4.2" height="4.2" fill="#000"/>
<rect x="391.09" y="52.24" width="4.2" height="4.2" fill="#000"/>
<rect x="404.08" y="63.05" width="4.2" height="4.2" fill="#000"/>
<rect x="418.24" y="74.68" width="4.2" height="4.2" fill="#000"/>
<rect x="433.65" y="87.43" width="4.2" height="4.2" fill="#000"/>
<circle cx="260.77" cy="108.80" r="2.35" fill="#ff0000"/>
<circle cx="264.09" cy="109.32" r="2.35" fill="#ff0000"/>
<circle cx="267.41" cy="109.39" r="2.35" fill="#ff0000"/>
<circle cx="270.73" cy="109.10" r="2.35" fill="#ff0000"/>
<circle cx="274.05" cy="108.52" r="2.35" fill="#ff0000"/>
<circle cx="277.37" cy="106.98" r="2.35" fill="#ff0000"/>
<circle cx="280.69" cy="105.26" r="2.35" fill="#ff0000"/>
<circle cx="284.00" cy="103.53" r="2.35" fill="#ff0000"/>
<circle cx="287.32" cy="101.65" r="2.35" fill="#ff0000"/>
<circle cx="290.64" cy="99.55" r="2.35" fill="#ff0000"/>
<circle cx="293.96" cy="97.36" r="2.35" fill="#ff0000"/>
<circle cx="297.28" cy="95.21" r="2.35" fill="#ff0000"/>
<circle cx="300.60" cy="92.84" r="2.35" fill="#ff0000"/>
<circle cx="303.91" cy="89.91" r="2.35" fill="#ff0000"/>
<circle cx="307.23" cy="87.13" r="2.35" fill="#ff0000"/>
<circle cx="310.55" cy="84.64" r="2.35" fill="#ff0000"/>
<circle cx="313.87" cy="82.40" r="2.35" fill="#ff0000"/>
<circle cx="317.19" cy="80.36" r="2.35" fill="#ff0000"/>
<circle cx="320.51" cy="78.60" r="2.35" fill="#ff0000"/>
<circle cx="323.83" cy="77.08" r="2.35" fill="#ff0000"/>
<circle cx="327.14" cy="75.79" r="2.35" fill="#ff0000"/>
<circle cx="330.46" cy="74.71" r="2.35" fill="#ff0000"/>
<circle cx="333.78" cy="73.87" r="2.35" fill="#ff0000"/>
<circle cx="337.10" cy="73.25" r="2.35" fill="#ff0000"/>
<circle cx="340.42" cy="72.91" r="2.35" fill="#ff0000"/>
<circle cx="343.74" cy="72.75" r="2.35" fill="#ff0000"/>
<circle cx="347.06" cy="72.75" r="2.35" fill="#ff0000"/>
<circle cx="350.37" cy="72.75" r="2.35" fill="#ff0000"/>
<circle cx="353.69" cy="73.04" r="2.35" fill="#ff0000"/>
<circle cx="357.01" cy="73.52" r="2.35" fill="#ff0000"/>
<circle cx="360.33" cy="74.23" r="2.35" fill="#ff0000"/>
<circle cx="363.65" cy="75.01" r="2.35" fill="#ff0000"/>
<circle cx="366.97" cy="75.77" r="2.35" fill="#ff0000"/>
<circle cx="370.28" cy="76.73" r="2.35" fill="#ff0000"/>
<circle cx="373.60" cy="77.96" r="2.35" fill="#ff0000"/>
<circle cx="376.92" cy="79.24" r="2.35" fill="#ff0000"/>
<circle cx="380.24" cy="80.58" r="2.35" fill="#ff0000"/>
<circle cx="383.56" cy="82.00" r="2.35" fill="#ff0000"/>
<circle cx="386.88" cy="83.47" r="2.35" fill="#ff0000"/>
<circle cx="390.20" cy="84.92" r="2.35" fill="#ff0000"/>
<circle cx="393.51" cy="86.39" r="2.35" fill="#ff0000"/>
<circle cx="396.83" cy="87.95" r="2.35" fill="#ff0000"/>
<circle cx="400.15" cy="89.58" r="2.35" fill="#ff0000"/>
<circle cx="403.47" cy="91.27" r="2.35" fill="#ff0000"/>
<circle cx="406.79" cy="93.04" r="2.35" fill="#ff0000"/>
<circle cx="410.11" cy="94.84" r="2.35" fill="#ff0000"/>
<circle cx="413.42" cy="96.69" r="2.35" fill="#ff0000"/>
<circle cx="416.74" cy="98.65" r="2.35" fill="#ff0000"/>
<circle cx="423.38" cy="103.08" r="2.35" fill="#ff0000"/>
<circle cx="426.70" cy="105.13" r="2.35" fill="#ff0000"/>
<circle cx="430.02" cy="107.10" r="2.35" fill="#ff0000"/>
<circle cx="433.34" cy="109.07" r="2.35" fill="#ff0000"/>
<circle cx="436.65" cy="111.10" r="2.35" fill="#ff0000"/>
<circle cx="439.97" cy="113.23" r="2.35" fill="#ff0000"/>
<circle cx="443.29" cy="115.42" r="2.35" fill="#ff0000"/>
<circle cx="446.61" cy="117.57" r="2.35" fill="#ff0000"/>
<path d="M257.87 145.49L263.67 145.49L260.77 140.29Z" fill="#0000ff"/>
<path d="M261.19 146.02L266.99 146.02L264.09 140.82Z" fill="#0000ff"/>
<path d="M264.51 146.20L270.31 146.20L267.41 141.00Z" fill="#0000ff"/>
<path d="M267.83 146.16L273.63 146.16L270.73 140.96Z" fill="#0000ff"/>
<path d="M271.15 146.04L276.95 146.04L274.05 140.84Z" fill="#0000ff"/>
<path d="M274.47 145.75L280.27 145.75L277.37 140.55Z" fill="#0000ff"/>
<path d="M277.79 145.16L283.58 145.16L280.69 139.96Z" fill="#0000ff"/>
<path d="M281.10 144.40L286.90 144.40L284.00 139.20Z" fill="#0000ff"/>
<path d="M284.42 143.45L290.22 143.45L287.32 138.25Z" fill="#0000ff"/>
<path d="M287.74 142.37L293.54 142.37L290.64 137.17Z" fill="#0000ff"/>
<path d="M291.06 141.12L296.86 141.12L293.96 135.92Z" fill="#0000ff"/>
<path d="M294.38 139.61L300.18 139.61L297.28 134.41Z" fill="#0000ff"/>
<path d="M297.70 137.91L303.50 137.91L300.60 132.71Z" fill="#0000ff"/>
<path d="M301.01 136.02L306.81 136.02L303.91 130.82Z" fill="#0000ff"/>
<path d="M304.33 133.95L310.13 133.95L307.23 128.75Z" fill="#0000ff"/>
<path d="M307.65 131.59L313.45 131.59L310.55 126.39Z" fill="#0000ff"/>
<path d="M310.97 129.61L316.77 129.61L313.87 124.41Z" fill="#0000ff"/>
<path d="M314.29 128.01L320.09 128.01L317.19 122.81Z" fill="#0000ff"/>
<path d="M317.61 126.49L323.41 126.49L320.51 121.29Z" fill="#0000ff"/>
<path d="M320.93 125.05L326.73 125.05L323.83 119.85Z" fill="#0000ff"/>
<path d="M324.24 123.85L330.04 123.85L327.14 118.65Z" fill="#0000ff"/>
<path d="M327.56 122.82L333.36 122.82L330.46 117.62Z" fill="#0000ff"/>
<path d="M330.88 121.94L336.68 121.94L333.78 116.74Z" fill="#0000ff"/>
<path d="M334.20 121.18L340.00 121.18L337.10 115.98Z" fill="#0000ff"/>
<path d="M337.52 120.54L343.32 120.54L340.42 115.34Z" fill="#0000ff"/>
<path d="M340.84 120.00L346.64 120.00L343.74 114.80Z" fill="#0000ff"/>
<path d="M344.16 119.59L349.95 119.59L347.06 114.39Z" fill="#0000ff"/>
<path d="M347.47 119.27L353.27 119.27L350.37 114.07Z" fill="#0000ff"/>
<path d="M350.79 119.02L356.59 119.02L353.69 113.82Z" fill="#0000ff"/>
<path d="M354.11 118.88L359.91 118.88L357.01 113.68Z" fill="#0000ff"/>
<path d="M357.43 118.81L363.23 118.81L360.33 113.61Z" fill="#0000ff"/>
<path d="M360.75 118.82L366.55 118.82L363.65 113.62Z" fill="#0000ff"/>
<path d="M364.07 119.04L369.87 119.04L366.97 113.84Z" fill="#0000ff"/>
<path d="M367.38 119.35L373.18 119.35L370.28 114.15Z" fill="#0000ff"/>
<path d="M370.70 119.79L376.50 119.79L373.60 114.59Z" fill="#0000ff"/>
<path d="M374.02 120.32L379.82 120.32L376.92 115.12Z" fill="#0000ff"/>
<path d="M377.34 120.98L383.14 120.98L380.24 115.78Z" fill="#0000ff"/>
<path d="M380.66 121.77L386.46 121.77L383.56 116.57Z" fill="#0000ff"/>
<path d="M383.98 122.68L389.78 122.68L386.88 117.48Z" fill="#0000ff"/>
<path d="M387.30 123.55L393.10 123.55L390.20 118.35Z" fill="#0000ff"/>
<path d="M390.61 124.44L396.41 124.44L393.51 119.24Z" fill="#0000ff"/>
<path d="M393.93 125.36L399.73 125.36L396.83 120.16Z" fill="#0000ff"/>
<path d="M397.25 126.35L403.05 126.35L400.15 121.15Z" fill="#0000ff"/>
<path d="M400.57 127.51L406.37 127.51L403.47 122.31Z" fill="#0000ff"/>
<path d="M403.89 128.68L409.69 128.68L406.79 123.48Z" fill="#0000ff"/>
<path d="M407.21 129.73L413.01 129.73L410.11 124.53Z" fill="#0000ff"/>
<path d="M410.52 130.81L416.32 130.81L413.42 125.61Z" fill="#0000ff"/>
<path d="M413.84 131.98L419.64 131.98L416.74 126.78Z" fill="#0000ff"/>
<path d="M417.16 133.17L422.96 133.17L420.06 127.97Z" fill="#0000ff"/>
<path d="M420.48 134.39L426.28 134.39L423.38 129.19Z" fill="#0000ff"/>
<path d="M423.80 135.66L429.60 135.66L426.70 130.46Z" fill="#0000ff"/>
<path d="M427.12 137.00L432.92 137.00L430.02 131.80Z" fill="#0000ff"/>
<path d="M430.44 138.37L436.24 138.37L433.34 133.17Z" fill="#0000ff"/>
<path d="M433.75 139.76L439.55 139.76L436.65 134.56Z" fill="#0000ff"/>
<path d="M437.07 141.06L442.87 141.06L439.97 135.86Z" fill="#0000ff"/>
<path d="M440.39 142.29L446.19 142.29L443.29 137.09Z" fill="#0000ff"/>
<path d="M443.71 143.58L449.51 143.58L446.61 138.38Z" fill="#0000ff"/>
<path d="M257.87 158.04L263.67 158.04L260.77 163.24Z" fill="#ff00ff"/>
<path d="M261.19 158.60L266.99 158.60L264.09 163.80Z" fill="#ff00ff"/>
<path d="M264.51 159.01L270.31 159.01L267.41 164.21Z" fill="#ff00ff"/>
<path d="M267.83 159.37L273.63 159.37L270.73 164.57Z" fill="#ff00ff"/>
<path d="M271.15 159.63L276.95 159.63L274.05 164.83Z" fill="#ff00ff"/>
<path d="M274.47 159.53L280.27 159.53L277.37 164.73Z" fill="#ff00ff"/>
<path d="M277.79 159.14L283.58 159.14L280.69 164.34Z" fill="#ff00ff"/>
<path d="M281.10 158.48L286.90 158.48L284.00 163.68Z" fill="#ff00ff"/>
<path d="M284.42 157.55L290.22 157.55L287.32 162.75Z" fill="#ff00ff"/>
<path d="M287.74 156.47L293.54 156.47L290.64 161.67Z" fill="#ff00ff"/>
<path d="M291.06 155.22L296.86 155.22L293.96 160.42Z" fill="#ff00ff"/>
<path d="M294.38 153.80L300.18 153.80L297.28 159.00Z" fill="#ff00ff"/>
<path d="M297.70 152.20L303.50 152.20L300.60 157.40Z" fill="#ff00ff"/>
<path d="M301.01 150.38L306.81 150.38L303.91 155.58Z" fill="#ff00ff"/>
<path d="M304.33 148.38L310.13 148.38L307.23 153.58Z" fill="#ff00ff"/>
<path d="M307.65 146.14L313.45 146.14L310.55 151.34Z" fill="#ff00ff"/>
<path d="M310.97 144.11L316.77 144.11L313.87 149.31Z" fill="#ff00ff"/>
<path d="M314.29 142.32L320.09 142.32L317.19 147.52Z" fill="#ff00ff"/>
<path d="M317.61 140.55L323.41 140.55L320.51 145.75Z" fill="#ff00ff"/>
<path d="M320.93 138.82L326.73 138.82L323.83 144.02Z" fill="#ff00ff"/>
<path d="M324.24 137.47L330.04 137.47L327.14 142.67Z" fill="#ff00ff"/>
<path d="M327.56 136.35L333.36 136.35L330.46 141.55Z" fill="#ff00ff"/>
<path d="M330.88 135.32L336.68 135.32L333.78 140.52Z" fill="#ff00ff"/>
<path d="M334.20 134.40L340.00 134.40L337.10 139.60Z" fill="#ff00ff"/>
<path d="M337.52 133.65L343.32 133.65L340.42 138.85Z" fill="#ff00ff"/>
<path d="M340.84 133.00L346.64 133.00L343.74 138.20Z" fill="#ff00ff"/>
<path d="M344.16 132.38L349.95 132.38L347.06 137.58Z" fill="#ff00ff"/>
<path d="M347.47 131.85L353.27 131.85L350.37 137.05Z" fill="#ff00ff"/>
<path d="M350.79 131.40L356.59 131.40L353.69 136.60Z" fill="#ff00ff"/>
<path d="M354.11 131.02L359.91 131.02L357.01 136.22Z" fill="#ff00ff"/>
<path d="M357.43 130.67L363.23 130.67L360.33 135.87Z" fill="#ff00ff"/>
<path d="M360.75 130.42L366.55 130.42L363.65 135.62Z" fill="#ff00ff"/>
<path d="M364.07 130.24L369.87 130.24L366.97 135.44Z" fill="#ff00ff"/>
<path d="M367.38 130.21L373.18 130.21L370.28 135.41Z" fill="#ff00ff"/>
<path d="M370.70 130.27L376.50 130.27L373.60 135.47Z" fill="#ff00ff"/>
<path d="M374.02 130.40L379.82 130.40L376.92 135.60Z" fill="#ff00ff"/>
<path d="M377.34 130.70L383.14 130.70L380.24 135.90Z" fill="#ff00ff"/>
<path d="M380.66 131.03L386.46 131.03L383.56 136.23Z" fill="#ff00ff"/>
<path d="M383.98 131.42L389.78 131.42L386.88 136.62Z" fill="#ff00ff"/>
<path d="M387.30 131.90L393.10 131.90L390.20 137.10Z" fill="#ff00ff"/>
<path d="M390.61 132.46L396.41 132.46L393.51 137.66Z" fill="#ff00ff"/>
<path d="M393.93 133.03L399.73 133.03L396.83 138.23Z" fill="#ff00ff"/>
<path d="M397.25 133.68L403.05 133.68L400.15 138.88Z" fill="#ff00ff"/>
<path d="M400.57 134.51L406.37 134.51L403.47 139.71Z" fill="#ff00ff"/>
<path d="M403.89 135.46L409.69 135.46L406.79 140.66Z" fill="#ff00ff"/>
<path d="M407.21 136.51L413.01 136.51L410.11 141.71Z" fill="#ff00ff"/>
<path d="M410.52 137.60L416.32 137.60L413.42 142.80Z" fill="#ff00ff"/>
<path d="M413.84 138.71L419.64 138.71L416.74 143.91Z" fill="#ff00ff"/>
<path d="M417.16 139.86L422.96 139.86L420.06 145.06Z" fill="#ff00ff"/>
<path d="M420.48 141.06L426.28 141.06L423.38 146.26Z" fill="#ff00ff"/>
<path d="M423.80 142.27L429.60 142.27L426.70 147.47Z" fill="#ff00ff"/>
<path d="M427.12 143.47L432.92 143.47L430.02 148.67Z" fill="#ff00ff"/>
<path d="M430.44 144.63L436.24 144.63L433.34 149.83Z" fill="#ff00ff"/>
<path d="M433.75 145.74L439.55 145.74L436.65 150.94Z" fill="#ff00ff"/>
<path d="M437.07 146.65L442.87 146.65L439.97 151.85Z" fill="#ff00ff"/>
<path d="M440.39 147.43L446.19 147.43L443.29 152.63Z" fill="#ff00ff"/>
<path d="M443.71 148.31L449.51 148.31L446.61 153.51Z" fill="#ff00ff"/>
</g>
<rect x="247.5" y="13.95" width="203.0" height="154.95000000000002" stroke="#3c3c3c" stroke-width="1" fill="none"/>
<path d="M247.50 168.9V171.70000000000002M247.50 13.95V11.149999999999999M264.09 168.9V170.5M264.09 13.95V12.35M280.69 168.9V171.70000000000002M280.69 13.95V11.149999999999999M297.28 168.9V170.5M297.28 13.95V12.35M313.87 168.9V171.70000000000002M313.87 13.95V11.149999999999999M330.46 168.9V170.5M330.46 13.95V12.35M347.06 168.9V171.70000000000002M347.06 13.95V11.149999999999999M363.65 168.9V170.5M363.65 13.95V12.35M380.24 168.9V171.70000000000002M380.24 13.95V11.149999999999999M396.83 168.9V170.5M396.83 13.95V12.35M413.42 168.9V171.70000000000002M413.42 13.95V11.149999999999999M430.02 168.9V170.5M430.02 13.95V12.35M446.61 168.9V171.70000000000002M446.61 13.95V11.149999999999999M247.5 163.59H245.5M450.5 163.59H452.5M247.5 137.76H244.3M450.5 137.76H453.7M247.5 111.92H245.5M450.5 111.92H452.5M247.5 86.09H244.3M450.5 86.09H453.7M247.5 60.25H245.5M450.5 60.25H452.5M247.5 34.42H244.3M450.5 34.42H453.7" stroke="#3c3c3c" stroke-width="1" fill="none"/>
<text x="247.50" y="180.9" font-size="9" text-anchor="middle" fill="#222">0</text>
<text x="280.69" y="180.9" font-size="9" text-anchor="middle" fill="#222">5</text>
<text x="313.87" y="180.9" font-size="9" text-anchor="middle" fill="#222">10</text>
<text x="347.06" y="180.9" font-size="9" text-anchor="middle" fill="#222">15</text>
<text x="380.24" y="180.9" font-size="9" text-anchor="middle" fill="#222">20</text>
<text x="413.42" y="180.9" font-size="9" text-anchor="middle" fill="#222">25</text>
<text x="446.61" y="180.9" font-size="9" text-anchor="middle" fill="#222">30</text>
<text x="242.6" y="140.46" font-size="9" text-anchor="end" fill="#222">0.06</text>
<text x="242.6" y="88.79" font-size="9" text-anchor="end" fill="#222">0.07</text>
<text x="242.6" y="37.12" font-size="9" text-anchor="end" fill="#222">0.08</text>
<text x="357.3" y="193.3" font-size="9.5" text-anchor="middle" fill="#222">T(K)</text>
<text transform="translate(220.5,77.2) rotate(-90)" font-size="11.5" text-anchor="middle" textLength="78.3" lengthAdjust="spacingAndGlyphs" fill="#222"><tspan font-family="Liberation Serif" font-size="12.5">χ</tspan> (emu/mol.Oe)</text>
<path d="M335.6 54.8V33.7" stroke="#000" stroke-width="1.4" fill="none"/><path d="M333.40000000000003 36.7L335.6 29.7L337.8 36.7Z" fill="#000"/>
<path d="M348.5 100.8V79.8" stroke="#ff0000" stroke-width="1.4" fill="none"/><path d="M346.3 82.8L348.5 75.8L350.7 82.8Z" fill="#ff0000"/>
<path d="M358.1 143.3V122.8" stroke="#0000ff" stroke-width="1.4" fill="none"/><path d="M355.90000000000003 125.8L358.1 118.8L360.3 125.8Z" fill="#0000ff"/>
<path d="M371 158.8V137.3" stroke="#ff00ff" stroke-width="1.4" fill="none"/><path d="M368.8 140.3L371 133.3L373.2 140.3Z" fill="#ff00ff"/>
</svg>
</body></html>
